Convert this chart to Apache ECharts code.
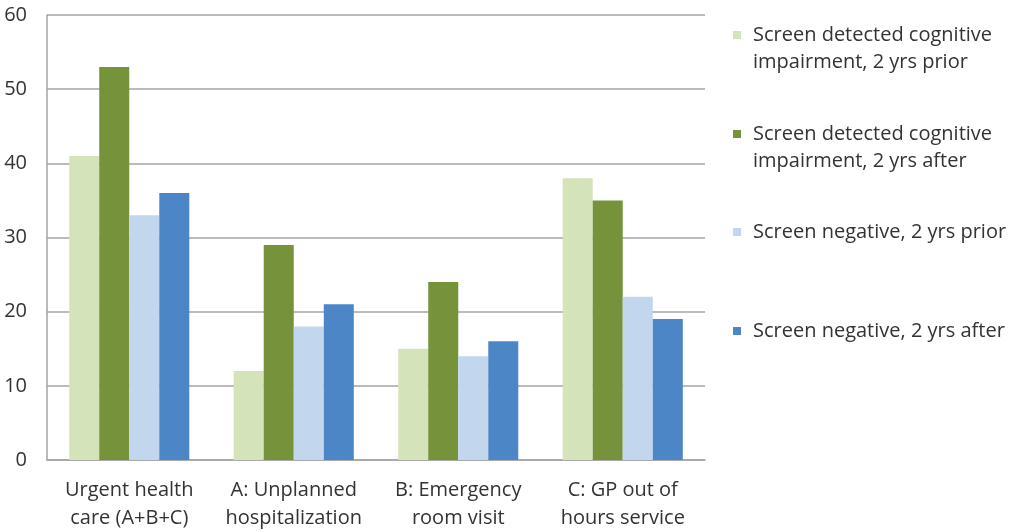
<!DOCTYPE html>
<html>
<head>
<meta charset="utf-8">
<script src="https://cdn.jsdelivr.net/npm/echarts@6/dist/echarts.min.js"></script>
<style>
  html, body { margin: 0; padding: 0; background: #fff; }
  #chart { width: 1021px; height: 532px; }
</style>
</head>
<body>
<div id="chart"></div>
<script>
// Urgent health care use, by screening result and period
const categories = [
  'Urgent health\ncare (A+B+C)',
  'A: Unplanned\nhospitalization',
  'B: Emergency\nroom visit',
  'C: GP out of\nhours service'
];
const seriesNames = [
  'Screen detected cognitive impairment, 2 yrs prior',
  'Screen detected cognitive impairment, 2 yrs after',
  'Screen negative, 2 yrs prior',
  'Screen negative, 2 yrs after'
];
const legendLines = [
  ['Screen detected cognitive', 'impairment, 2 yrs prior'],
  ['Screen detected cognitive', 'impairment, 2 yrs after'],
  ['Screen negative, 2 yrs prior'],
  ['Screen negative, 2 yrs after']
];
const cogPrior = [41, 12, 15, 38];
const cogAfter = [53, 29, 24, 35];
const negPrior = [33, 18, 14, 22];
const negAfter = [36, 21, 16, 19];
const yTicks = [0, 10, 20, 30, 40, 50, 60];

const colors = ['#d5e3bb', '#76933c', '#c2d7ee', '#4c86c6'];
const values = [cogPrior, cogAfter, negPrior, negAfter];
const legendTops = [25, 124, 222, 321];
const textColor = '#333333';
const font = 'Open Sans';
const fontSize = 20;

const rich = { t: { fontFamily: font, fontSize: fontSize, color: textColor, lineHeight: 27 },
               ind: { width: 20, height: 8 } };
colors.forEach((c, i) => {
  rich['sq' + i] = { width: 8, height: 8, backgroundColor: c, padding: 0 };
  rich['gap' + i] = { width: 12, height: 8 };
});

const legends = seriesNames.map((name, i) => ({
  data: [name],
  left: 728,
  top: legendTops[i],
  icon: 'none',
  itemWidth: 0,
  itemHeight: 0,
  itemGap: 0,
  padding: 0,
  selectedMode: false,
  formatter: () => {
    const lines = legendLines[i];
    let s = '{sq' + i + '|}{gap' + i + '|}{t|' + lines[0] + '}';
    for (let k = 1; k < lines.length; k++) s += '\n{ind|}{t|' + lines[k] + '}';
    return s;
  },
  textStyle: { rich: rich, padding: 0 }
}));

const chart = echarts.init(document.getElementById('chart'), null, { renderer: 'canvas' });
chart.setOption({
  animation: false,
  backgroundColor: '#ffffff',
  grid: { left: 47, right: 316, top: 15, bottom: 72, containLabel: false },
  legend: legends,
  xAxis: {
    type: 'category',
    data: categories,
    axisTick: { show: false },
    axisLine: { lineStyle: { color: '#a5a5a5', width: 1.5 } },
    axisLabel: { color: textColor, fontFamily: font, fontSize: fontSize, lineHeight: 28, margin: 16, interval: 0 }
  },
  yAxis: {
    type: 'value',
    min: yTicks[0],
    max: yTicks[yTicks.length - 1],
    interval: 10,
    axisLine: { show: true, lineStyle: { color: '#a5a5a5', width: 1.5 } },
    axisTick: { show: false },
    splitLine: { lineStyle: { color: '#a5a5a5', width: 1.5 } },
    axisLabel: { color: textColor, fontFamily: font, fontSize: fontSize, margin: 20 }
  },
  series: seriesNames.map((name, i) => ({
    name: name,
    type: 'bar',
    data: values[i],
    barGap: '0%',
    barCategoryGap: '27%',
    itemStyle: { color: colors[i] }
  }))
});
</script>
</body>
</html>
